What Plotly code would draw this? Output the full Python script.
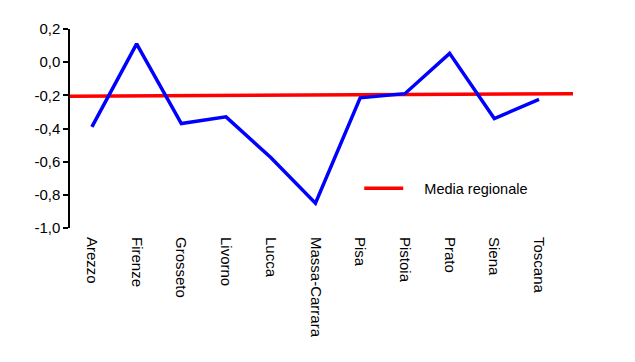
import plotly.graph_objects as go

categories = ["Arezzo", "Firenze", "Grosseto", "Livorno", "Lucca", "Massa-Carrara",
              "Pisa", "Pistoia", "Prato", "Siena", "Toscana"]
values = [-0.39, 0.11, -0.37, -0.33, -0.575, -0.85, -0.215, -0.19, 0.053, -0.34, -0.225]

media_x = [-0.49, 10.76]
media_y = [-0.205, -0.19]

ytick_vals = [0.2, 0.0, -0.2, -0.4, -0.6, -0.8, -1.0]
ytick_text = [f"{v:.1f}".replace(".", ",") for v in ytick_vals]

FONT = "Liberation Sans, Arial, sans-serif"

fig = go.Figure()
fig.add_trace(go.Scatter(
    x=media_x, y=media_y, mode="lines", name="\u00a0\u00a0\u00a0\u00a0Media regionale",
    line=dict(color="#ff0000", width=3.5), showlegend=True,
))
fig.add_trace(go.Scatter(
    x=list(range(len(categories))), y=values, mode="lines",
    line=dict(color="#0000ff", width=3.5), showlegend=False,
))

fig.update_layout(
    width=635, height=362,
    margin=dict(l=62, r=70, t=12, b=142),
    plot_bgcolor="white", paper_bgcolor="white",
    font=dict(family=FONT, size=15, color="#000000"),
    legend=dict(x=0.575, y=0.2, xanchor="left", yanchor="middle",
                bgcolor="rgba(0,0,0,0)", font=dict(size=14.5), itemwidth=39),
)
fig.update_xaxes(
    range=[-0.49, 10.76],
    tickmode="array", tickvals=list(range(len(categories))), ticktext=categories,
    tickangle=90, showline=False, showgrid=False, zeroline=False,
    ticks="", ticklabelstandoff=8,
)
fig.update_yaxes(
    range=[-1.0, 0.2],
    tickmode="array", tickvals=ytick_vals, ticktext=ytick_text,
    showline=True, linecolor="#000000", linewidth=1.5,
    ticks="outside", ticklen=5, tickcolor="#000000", tickwidth=1.5,
    showgrid=False, zeroline=False,
)

fig.write_html("out.html")
